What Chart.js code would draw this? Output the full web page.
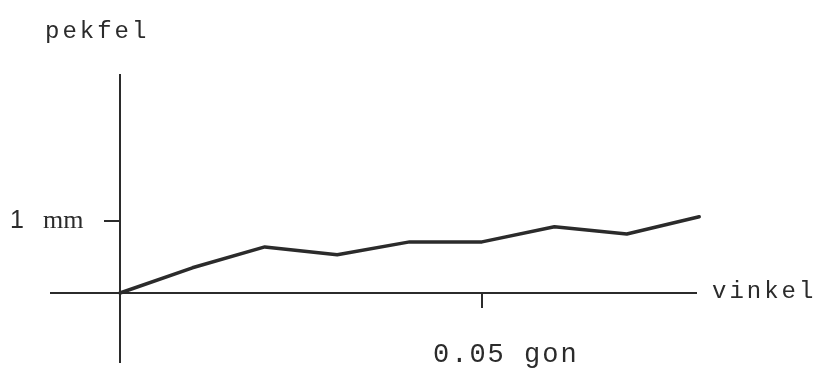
<!DOCTYPE html>
<html>
<head>
<meta charset="utf-8">
<script src="https://cdn.jsdelivr.net/npm/chart.js@4"></script>
<style>
  html, body { margin: 0; padding: 0; background: #fff; }
  #chart { display: block; }
</style>
</head>
<body>
<canvas id="chart" width="830" height="369"></canvas>
<script>
// pekfel (mm) against vinkel (gon)
const angles = [0, 0.01, 0.02, 0.03, 0.04, 0.05, 0.06, 0.07, 0.08];
const errors = [0, 0.35, 0.64, 0.53, 0.71, 0.71, 0.92, 0.82, 1.06];

const xTicks = [0.05];
const xTickLabels = ["0.05 gon"];
const yTicks = [1];
const yTickNumbers = ["1"];
const yTickUnits = ["mm"];

const ink = "#2b2b2b";

// draws the hand-made axes, ticks and labels
const sketchAxes = {
    id: "sketchAxes",
    beforeDatasetsDraw(chart) {
        const { ctx, chartArea, scales } = chart;
        const x0 = scales.x.getPixelForValue(0);
        const y0 = scales.y.getPixelForValue(0);
        ctx.save();
        ctx.strokeStyle = ink;
        ctx.lineWidth = 2;
        ctx.beginPath();
        ctx.moveTo(chartArea.left, y0);
        ctx.lineTo(chartArea.right - 2, y0);
        ctx.moveTo(x0, chartArea.top);
        ctx.lineTo(x0, chartArea.bottom);
        xTicks.forEach(v => {
            const px = scales.x.getPixelForValue(v);
            ctx.moveTo(px, y0);
            ctx.lineTo(px, y0 + 15);
        });
        yTicks.forEach(v => {
            const py = scales.y.getPixelForValue(v);
            ctx.moveTo(x0 - 16, py);
            ctx.lineTo(x0, py);
        });
        ctx.stroke();
        ctx.restore();
    },
    afterDraw(chart) {
        const { ctx, chartArea, scales } = chart;
        const y0 = scales.y.getPixelForValue(0);
        ctx.save();
        ctx.fillStyle = ink;
        ctx.textBaseline = "alphabetic";
        ctx.textAlign = "left";

        ctx.font = "24px 'Liberation Mono'";
        ctx.letterSpacing = "3px";
        ctx.fillText("pekfel", 45, 38);
        ctx.fillText("vinkel", chartArea.right + 13, y0 + 5);

        ctx.font = "27px 'Liberation Mono'";
        ctx.letterSpacing = "2px";
        xTicks.forEach((v, i) => {
            const px = scales.x.getPixelForValue(v);
            ctx.fillText(xTickLabels[i], px - 49, y0 + 69);
        });

        ctx.letterSpacing = "0px";
        yTicks.forEach((v, i) => {
            const py = scales.y.getPixelForValue(v);
            ctx.font = "25px 'Liberation Sans'";
            ctx.fillText(yTickNumbers[i], 10, py + 7);
            ctx.font = "26px 'Liberation Serif'";
            ctx.fillText(yTickUnits[i], 43, py + 7);
        });
        ctx.restore();
    }
};

new Chart(document.getElementById("chart"), {
    type: "line",
    data: {
        datasets: [{
            data: angles.map((a, i) => ({ x: a, y: errors[i] })),
            borderColor: ink,
            borderWidth: 3.5,
            borderJoinStyle: "round",
            borderCapStyle: "round",
            pointRadius: 0,
            tension: 0,
            fill: false,
            clip: false
        }]
    },
    options: {
        responsive: false,
        animation: false,
        layout: { padding: { left: 50, right: 131, top: 74, bottom: 6 } },
        plugins: {
            legend: { display: false },
            tooltip: { enabled: false }
        },
        scales: {
            x: { type: "linear", min: -70 / 7240, max: 579 / 7240, display: false },
            y: { type: "linear", min: -70 / 72, max: 219 / 72, display: false }
        }
    },
    plugins: [sketchAxes]
});
</script>
</body>
</html>
